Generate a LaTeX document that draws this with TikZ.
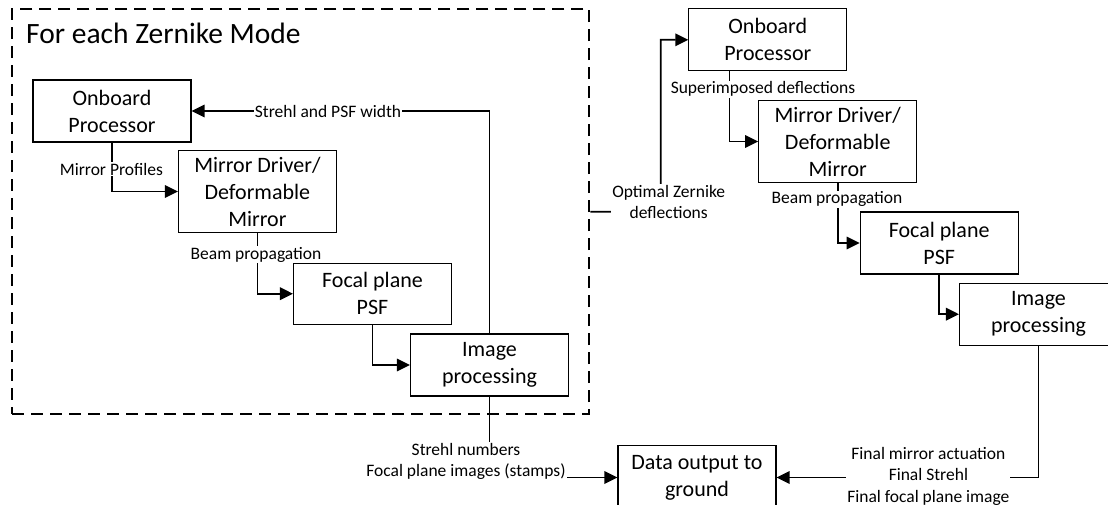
\documentclass[tikz,border=0pt]{standalone}
\usepackage{fontspec}
\setmainfont{Carlito}
\usetikzlibrary{arrows.meta,calc}
\begin{document}
\begin{tikzpicture}[x=1pt,y=-1pt,
  box/.style={draw, line width=1.1pt, rectangle, inner sep=0pt, align=center,
    font=\fontsize{22}{27}\selectfont, minimum width=158pt, minimum height=62pt},
  lbl/.style={fill=white, inner sep=1pt, align=center,
    font=\fontsize{17.5}{21.5}\selectfont},
  flow/.style={line width=1.8pt, -{Triangle[length=13pt,width=12.5pt]}},
  group/.style={draw, line width=2pt, dash pattern=on 12pt off 7pt,
    minimum width=577pt, minimum height=405pt, inner sep=0pt}
]
\useasboundingbox (0,0) rectangle (1108,505);
\clip (0,0) rectangle (1108,505);

% iteration loop, one pass per Zernike mode
\node[group] (loop) at (300.9,211.7) {};
\node[anchor=west, inner sep=0pt, font=\fontsize{29.5}{33}\selectfont] (title) at (26,33.5) {For each Zernike Mode};

\node[box] (op1) at (112,111) {Onboard\\Processor};
\node[box, minimum height=81.6pt] (md1) at (257.4,191.5) {Mirror Driver/\\Deformable\\Mirror};
\node[box, minimum height=61pt] (fp1) at (372.5,293.7) {Focal plane\\PSF};
\node[box] (ip1) at (489.5,365) {Image\\processing};

% final pass with the combined correction
\node[box, minimum height=61.7pt] (op2) at (767.8,39.8) {Onboard\\Processor};
\node[box, minimum height=81.6pt] (md2) at (837.7,141.5) {Mirror Driver/\\Deformable\\Mirror};
\node[box] (fp2) at (939.2,243) {Focal plane\\PSF};
\node[box] (ip2) at (1038.5,314.2) {Image\\processing};

\node[box, minimum height=63.6pt] (out) at (697,477.5) {Data output to\\ground};

% connectors inside the loop
\draw[flow] (op1.south) |- (md1.west);
\draw[flow] (md1.south) |- (fp1.west);
\draw[flow] (fp1.south) |- (ip1.west);
\draw[flow] (ip1.north) |- (op1.east);
\draw[flow] (ip1.south) |- (out.west);

% connectors of the final pass
\coordinate (zk) at (660.7,212);
\draw[flow] (loop.east) -- (zk) |- (op2.west);
\draw[flow] ($(op2.south)+(-38.3,0)$) |- (md2.west);
\draw[flow] (md2.south) |- (fp2.west);
\draw[flow] (fp2.south) |- (ip2.west);
\draw[flow] (ip2.south) |- (out.east);

% connector labels
\node[lbl] (l1) at (111.4,169.3) {Mirror Profiles};
\node[lbl] (l2) at (256,254.5) {Beam propagation};
\node[lbl] (l3) at (328,111.7) {Strehl and PSF width};
\node[lbl] (l4) at (466,461.6) {Strehl numbers\\Focal plane images (stamps)};
\node[lbl] (l5) at (668.7,202) {Optimal Zernike\\deflections};
\node[lbl] (l6) at (763,89.3) {Superimposed deflections};
\node[lbl] (l7) at (837,199.3) {Beam propagation};
\node[lbl] (l8) at (928.4,476.3) {Final mirror actuation\\Final Strehl\\Final focal plane image};
\end{tikzpicture}
\end{document}
